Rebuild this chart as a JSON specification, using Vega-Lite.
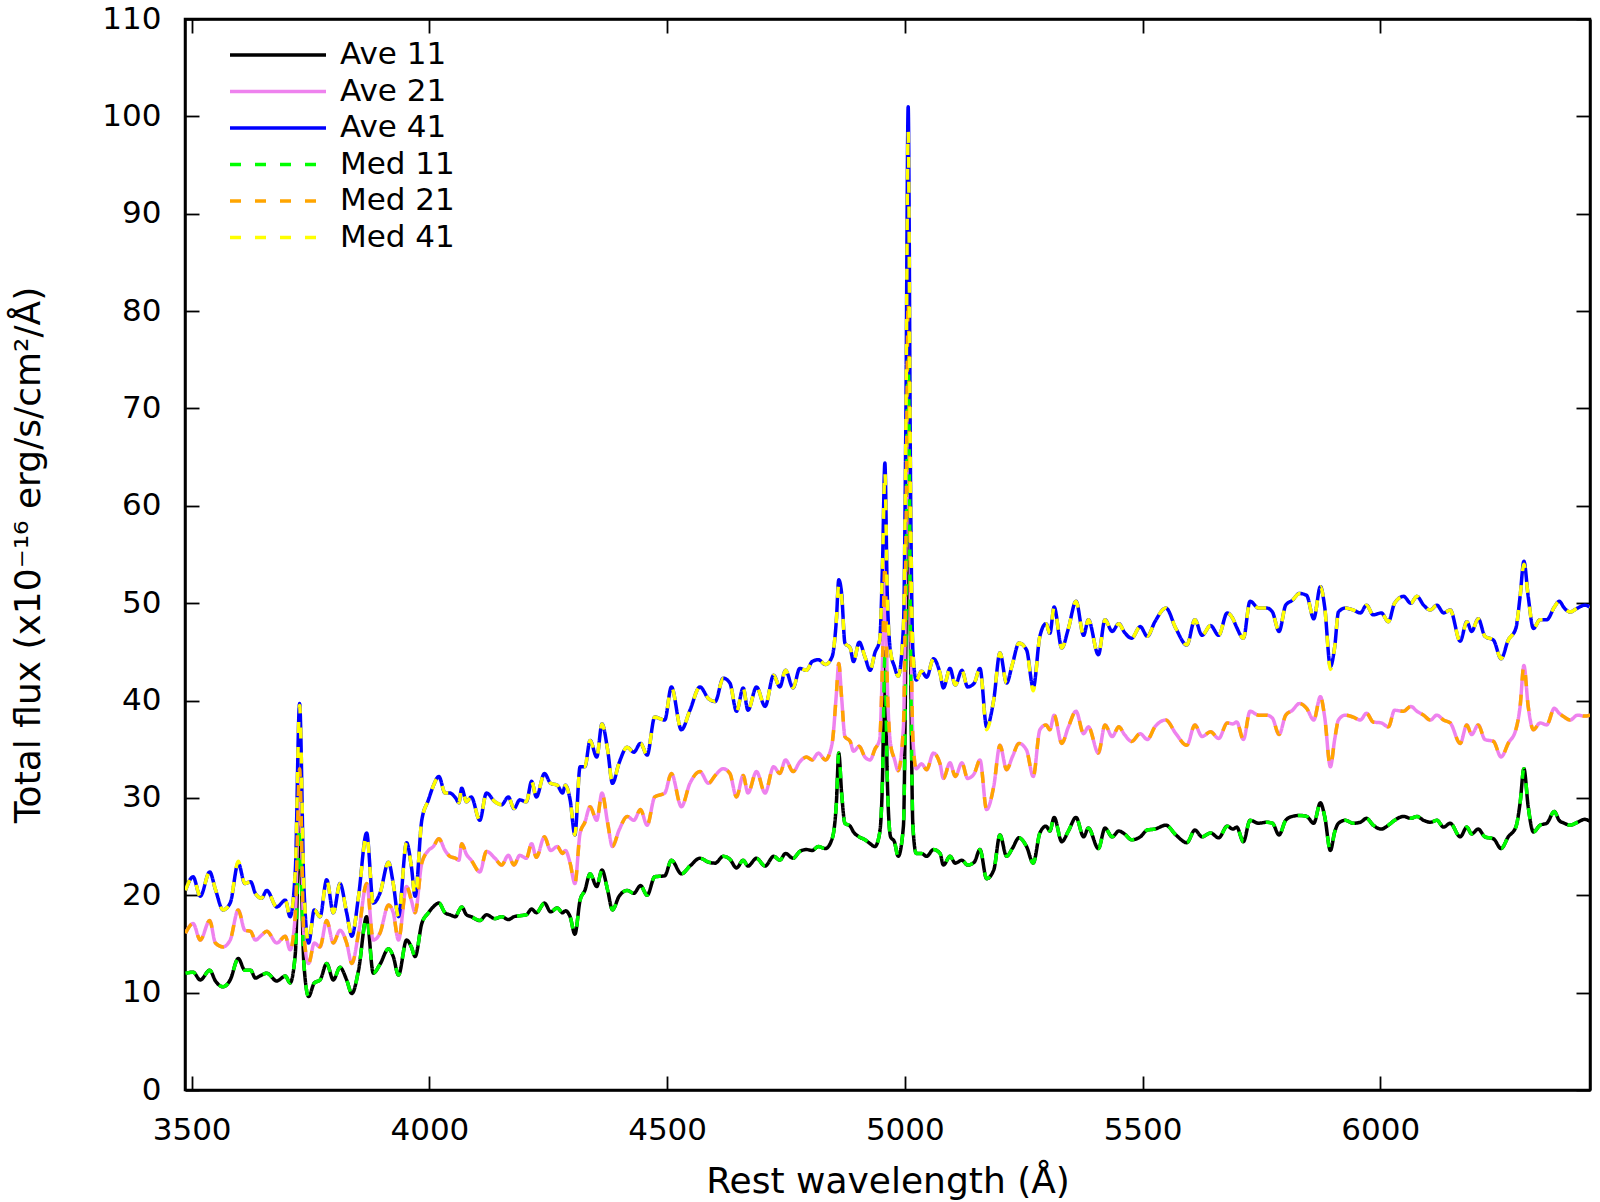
{
  "$schema": "https://vega.github.io/schema/vega-lite/v6.json",
  "width": 1405,
  "height": 1071,
  "autosize": {"type": "none"},
  "padding": {"left": 185, "top": 19, "right": 10, "bottom": 112},
  "background": "white",
  "data": {
    "values": [
      {"w":3487,"a11":12.0,"a21":16.1,"a41":20.5,"m11":12.0,"m21":16.1,"m41":20.5},
      {"w":3503,"a11":12.1,"a21":17.1,"a41":21.9,"m11":12.1,"m21":17.1,"m41":21.9},
      {"w":3518,"a11":11.3,"a21":15.4,"a41":19.9,"m11":11.3,"m21":15.4,"m41":19.9},
      {"w":3538,"a11":12.3,"a21":17.4,"a41":22.4,"m11":12.3,"m21":17.4,"m41":22.4},
      {"w":3550,"a11":11.2,"a21":15.1,"a41":20.6,"m11":11.2,"m21":15.1,"m41":20.6},
      {"w":3566,"a11":10.6,"a21":14.7,"a41":18.5,"m11":10.6,"m21":14.7,"m41":18.5},
      {"w":3581,"a11":11.3,"a21":15.4,"a41":19.2,"m11":11.3,"m21":15.4,"m41":19.2},
      {"w":3598,"a11":13.5,"a21":18.5,"a41":23.3,"m11":13.5,"m21":18.5,"m41":23.5},
      {"w":3612,"a11":12.3,"a21":16.4,"a41":21.2,"m11":12.3,"m21":16.4,"m41":21.2},
      {"w":3624,"a11":12.3,"a21":16.3,"a41":21.4,"m11":12.3,"m21":16.3,"m41":21.4},
      {"w":3634,"a11":11.5,"a21":15.4,"a41":20.2,"m11":11.5,"m21":15.4,"m41":20.2},
      {"w":3647,"a11":11.8,"a21":15.9,"a41":19.7,"m11":11.8,"m21":15.9,"m41":19.7},
      {"w":3658,"a11":12.0,"a21":16.3,"a41":20.5,"m11":12.0,"m21":16.3,"m41":20.5},
      {"w":3679,"a11":11.2,"a21":15.1,"a41":18.8,"m11":11.2,"m21":15.1,"m41":18.8},
      {"w":3697,"a11":11.7,"a21":15.8,"a41":19.5,"m11":11.7,"m21":15.8,"m41":19.5},
      {"w":3707,"a11":11.0,"a21":14.4,"a41":17.8,"m11":11.0,"m21":14.4,"m41":17.8},
      {"w":3718,"a11":14.0,"a21":18.0,"a41":22.5,"m11":14.0,"m21":18.0,"m41":22.5},
      {"w":3727,"a11":27.0,"a21":33.0,"a41":39.7,"m11":27.0,"m21":33.0,"m41":39.5},
      {"w":3736,"a11":13.0,"a21":16.0,"a41":21.0,"m11":13.0,"m21":16.0,"m41":21.0},
      {"w":3746,"a11":9.6,"a21":13.0,"a41":15.1,"m11":9.6,"m21":13.0,"m41":15.1},
      {"w":3758,"a11":11.0,"a21":15.1,"a41":18.5,"m11":11.0,"m21":15.1,"m41":18.5},
      {"w":3770,"a11":11.3,"a21":14.7,"a41":17.8,"m11":11.3,"m21":14.7,"m41":17.8},
      {"w":3784,"a11":13.0,"a21":17.4,"a41":21.6,"m11":13.0,"m21":17.4,"m41":21.6},
      {"w":3798,"a11":11.3,"a21":15.1,"a41":18.2,"m11":11.3,"m21":15.1,"m41":18.2},
      {"w":3812,"a11":12.6,"a21":16.4,"a41":21.2,"m11":12.6,"m21":16.4,"m41":21.2},
      {"w":3826,"a11":11.3,"a21":15.1,"a41":18.2,"m11":11.3,"m21":15.1,"m41":18.2},
      {"w":3837,"a11":9.9,"a21":13.0,"a41":15.8,"m11":9.9,"m21":13.0,"m41":15.8},
      {"w":3851,"a11":12.3,"a21":16.1,"a41":19.9,"m11":12.3,"m21":16.1,"m41":19.9},
      {"w":3868,"a11":17.8,"a21":21.2,"a41":26.4,"m11":17.8,"m21":21.2,"m41":26.2},
      {"w":3882,"a11":12.0,"a21":15.4,"a41":19.2,"m11":12.0,"m21":15.4,"m41":19.2},
      {"w":3896,"a11":12.9,"a21":16.1,"a41":20.2,"m11":12.9,"m21":16.1,"m41":20.2},
      {"w":3914,"a11":14.5,"a21":19.0,"a41":23.4,"m11":14.5,"m21":19.0,"m41":23.4},
      {"w":3924,"a11":13.7,"a21":18.2,"a41":21.2,"m11":13.7,"m21":18.2,"m41":21.2},
      {"w":3935,"a11":11.8,"a21":15.4,"a41":17.8,"m11":11.8,"m21":15.4,"m41":17.8},
      {"w":3952,"a11":15.4,"a21":20.9,"a41":25.4,"m11":15.4,"m21":20.9,"m41":25.4},
      {"w":3962,"a11":14.7,"a21":19.5,"a41":23.0,"m11":14.7,"m21":19.5,"m41":23.0},
      {"w":3970,"a11":13.7,"a21":18.2,"a41":19.9,"m11":13.7,"m21":18.2,"m41":19.9},
      {"w":3984,"a11":17.1,"a21":23.3,"a41":27.7,"m11":17.1,"m21":23.3,"m41":27.7},
      {"w":3998,"a11":18.2,"a21":24.6,"a41":29.8,"m11":18.2,"m21":24.6,"m41":29.8},
      {"w":4008,"a11":18.8,"a21":25.0,"a41":31.2,"m11":18.8,"m21":25.0,"m41":31.2},
      {"w":4020,"a11":19.2,"a21":25.8,"a41":32.2,"m11":19.2,"m21":25.8,"m41":32.2},
      {"w":4033,"a11":18.2,"a21":24.6,"a41":30.5,"m11":18.2,"m21":24.6,"m41":30.5},
      {"w":4043,"a11":18.0,"a21":24.0,"a41":30.5,"m11":18.0,"m21":24.0,"m41":30.5},
      {"w":4055,"a11":17.8,"a21":23.8,"a41":30.0,"m11":17.8,"m21":23.8,"m41":30.0},
      {"w":4062,"a11":18.4,"a21":23.6,"a41":29.5,"m11":18.4,"m21":23.6,"m41":29.5},
      {"w":4068,"a11":18.8,"a21":25.3,"a41":31.0,"m11":18.8,"m21":25.3,"m41":31.0},
      {"w":4078,"a11":18.0,"a21":24.2,"a41":29.6,"m11":18.0,"m21":24.2,"m41":29.6},
      {"w":4088,"a11":17.8,"a21":23.6,"a41":30.1,"m11":17.8,"m21":23.6,"m41":30.1},
      {"w":4106,"a11":17.4,"a21":22.4,"a41":27.7,"m11":17.4,"m21":22.4,"m41":27.7},
      {"w":4120,"a11":18.0,"a21":24.5,"a41":30.5,"m11":18.0,"m21":24.5,"m41":30.5},
      {"w":4138,"a11":17.6,"a21":23.8,"a41":29.6,"m11":17.6,"m21":23.8,"m41":29.6},
      {"w":4152,"a11":17.8,"a21":23.1,"a41":29.3,"m11":17.8,"m21":23.1,"m41":29.3},
      {"w":4166,"a11":17.5,"a21":24.1,"a41":30.1,"m11":17.5,"m21":24.1,"m41":30.1},
      {"w":4178,"a11":17.8,"a21":23.1,"a41":28.9,"m11":17.8,"m21":23.1,"m41":28.9},
      {"w":4190,"a11":17.9,"a21":24.1,"a41":29.8,"m11":17.9,"m21":24.1,"m41":29.8},
      {"w":4204,"a11":18.0,"a21":23.8,"a41":29.6,"m11":18.0,"m21":23.8,"m41":29.6},
      {"w":4215,"a11":18.6,"a21":25.3,"a41":31.7,"m11":18.6,"m21":25.3,"m41":31.7},
      {"w":4225,"a11":18.2,"a21":23.9,"a41":30.1,"m11":18.2,"m21":23.9,"m41":30.1},
      {"w":4242,"a11":19.2,"a21":26.0,"a41":32.5,"m11":19.2,"m21":26.0,"m41":32.5},
      {"w":4255,"a11":18.3,"a21":24.6,"a41":31.5,"m11":18.3,"m21":24.6,"m41":31.5},
      {"w":4269,"a11":18.7,"a21":25.0,"a41":31.3,"m11":18.7,"m21":25.0,"m41":31.3},
      {"w":4280,"a11":18.2,"a21":24.3,"a41":30.5,"m11":18.2,"m21":24.3,"m41":30.5},
      {"w":4286,"a11":18.4,"a21":24.6,"a41":31.3,"m11":18.4,"m21":24.6,"m41":31.3},
      {"w":4296,"a11":17.8,"a21":23.3,"a41":29.8,"m11":17.8,"m21":23.3,"m41":29.8},
      {"w":4306,"a11":16.0,"a21":21.2,"a41":26.2,"m11":16.0,"m21":21.2,"m41":26.2},
      {"w":4317,"a11":19.5,"a21":26.4,"a41":33.2,"m11":19.5,"m21":26.4,"m41":33.2},
      {"w":4327,"a11":20.5,"a21":27.5,"a41":33.2,"m11":20.5,"m21":27.5,"m41":33.2},
      {"w":4338,"a11":22.2,"a21":29.1,"a41":35.9,"m11":22.2,"m21":29.1,"m41":35.9},
      {"w":4352,"a11":20.9,"a21":27.7,"a41":34.2,"m11":20.9,"m21":27.7,"m41":34.2},
      {"w":4363,"a11":22.6,"a21":30.5,"a41":37.6,"m11":22.6,"m21":30.5,"m41":37.6},
      {"w":4375,"a11":20.5,"a21":27.4,"a41":34.9,"m11":20.5,"m21":27.4,"m41":34.9},
      {"w":4385,"a11":18.5,"a21":25.0,"a41":31.5,"m11":18.5,"m21":25.0,"m41":31.5},
      {"w":4399,"a11":19.9,"a21":26.7,"a41":33.6,"m11":19.9,"m21":26.7,"m41":33.6},
      {"w":4416,"a11":20.5,"a21":28.1,"a41":35.2,"m11":20.5,"m21":28.1,"m41":35.2},
      {"w":4430,"a11":20.2,"a21":27.7,"a41":34.7,"m11":20.2,"m21":27.7,"m41":34.7},
      {"w":4444,"a11":21.0,"a21":28.8,"a41":35.6,"m11":21.0,"m21":28.8,"m41":35.6},
      {"w":4458,"a11":20.0,"a21":27.2,"a41":34.4,"m11":20.0,"m21":27.2,"m41":34.4},
      {"w":4474,"a11":21.9,"a21":30.1,"a41":38.3,"m11":21.9,"m21":30.1,"m41":38.3},
      {"w":4495,"a11":22.0,"a21":30.5,"a41":38.0,"m11":22.0,"m21":30.5,"m41":38.0},
      {"w":4509,"a11":23.6,"a21":32.5,"a41":41.4,"m11":23.6,"m21":32.5,"m41":41.4},
      {"w":4530,"a11":22.2,"a21":29.1,"a41":37.0,"m11":22.2,"m21":29.1,"m41":37.0},
      {"w":4548,"a11":23.0,"a21":31.5,"a41":39.0,"m11":23.0,"m21":31.5,"m41":39.0},
      {"w":4569,"a11":23.8,"a21":32.7,"a41":41.4,"m11":23.8,"m21":32.7,"m41":41.4},
      {"w":4587,"a11":23.4,"a21":31.5,"a41":40.2,"m11":23.4,"m21":31.5,"m41":40.2},
      {"w":4601,"a11":23.3,"a21":32.3,"a41":39.9,"m11":23.3,"m21":32.3,"m41":39.9},
      {"w":4618,"a11":24.0,"a21":33.0,"a41":42.3,"m11":24.0,"m21":33.0,"m41":42.3},
      {"w":4632,"a11":23.7,"a21":32.5,"a41":41.8,"m11":23.7,"m21":32.5,"m41":41.8},
      {"w":4646,"a11":22.8,"a21":30.1,"a41":38.9,"m11":22.8,"m21":30.1,"m41":38.9},
      {"w":4660,"a11":23.6,"a21":32.3,"a41":41.3,"m11":23.6,"m21":32.3,"m41":41.3},
      {"w":4670,"a11":23.0,"a21":30.5,"a41":39.0,"m11":23.0,"m21":30.5,"m41":39.0},
      {"w":4688,"a11":23.8,"a21":32.7,"a41":41.4,"m11":23.8,"m21":32.7,"m41":41.4},
      {"w":4706,"a11":23.0,"a21":30.5,"a41":39.4,"m11":23.0,"m21":30.5,"m41":39.4},
      {"w":4724,"a11":24.0,"a21":33.2,"a41":42.6,"m11":24.0,"m21":33.2,"m41":42.6},
      {"w":4737,"a11":23.6,"a21":32.5,"a41":41.4,"m11":23.6,"m21":32.5,"m41":41.4},
      {"w":4749,"a11":24.3,"a21":33.9,"a41":43.1,"m11":24.3,"m21":33.9,"m41":43.1},
      {"w":4765,"a11":23.8,"a21":32.7,"a41":41.3,"m11":23.8,"m21":32.7,"m41":41.3},
      {"w":4779,"a11":24.5,"a21":33.7,"a41":43.3,"m11":24.5,"m21":33.7,"m41":43.3},
      {"w":4793,"a11":24.7,"a21":34.2,"a41":43.1,"m11":24.7,"m21":34.2,"m41":43.1},
      {"w":4805,"a11":24.6,"a21":33.9,"a41":44.0,"m11":24.6,"m21":33.9,"m41":44.0},
      {"w":4818,"a11":25.0,"a21":34.6,"a41":44.2,"m11":25.0,"m21":34.6,"m41":44.2},
      {"w":4833,"a11":24.8,"a21":33.9,"a41":43.7,"m11":24.8,"m21":33.9,"m41":43.7},
      {"w":4847,"a11":25.8,"a21":35.6,"a41":44.5,"m11":25.8,"m21":35.6,"m41":44.5},
      {"w":4856,"a11":29.5,"a21":40.7,"a41":48.3,"m11":29.5,"m21":40.7,"m41":48.3},
      {"w":4861,"a11":34.6,"a21":43.8,"a41":52.4,"m11":34.6,"m21":43.8,"m41":52.0},
      {"w":4867,"a11":30.5,"a21":40.3,"a41":51.0,"m11":30.5,"m21":40.3,"m41":50.6},
      {"w":4874,"a11":27.4,"a21":36.3,"a41":45.9,"m11":27.4,"m21":36.3,"m41":45.9},
      {"w":4885,"a11":27.1,"a21":35.8,"a41":45.4,"m11":27.1,"m21":35.8,"m41":45.4},
      {"w":4892,"a11":26.5,"a21":34.8,"a41":44.0,"m11":26.5,"m21":34.8,"m41":44.0},
      {"w":4904,"a11":26.0,"a21":35.3,"a41":46.0,"m11":26.0,"m21":35.3,"m41":46.0},
      {"w":4916,"a11":25.7,"a21":34.2,"a41":44.5,"m11":25.7,"m21":34.2,"m41":44.5},
      {"w":4927,"a11":25.3,"a21":33.9,"a41":43.1,"m11":25.3,"m21":33.9,"m41":43.1},
      {"w":4937,"a11":25.0,"a21":35.0,"a41":44.9,"m11":25.0,"m21":35.0,"m41":44.9},
      {"w":4947,"a11":26.4,"a21":36.0,"a41":46.2,"m11":26.4,"m21":36.0,"m41":46.2},
      {"w":4953,"a11":32.0,"a21":44.0,"a41":54.0,"m11":32.0,"m21":44.0,"m41":54.0},
      {"w":4958,"a11":45.0,"a21":54.5,"a41":64.4,"m11":44.5,"m21":54.0,"m41":63.5},
      {"w":4963,"a11":32.0,"a21":42.0,"a41":51.0,"m11":32.0,"m21":42.0,"m41":51.0},
      {"w":4970,"a11":26.0,"a21":35.5,"a41":45.0,"m11":26.0,"m21":35.5,"m41":45.0},
      {"w":4978,"a11":25.5,"a21":34.0,"a41":43.5,"m11":25.5,"m21":34.0,"m41":43.5},
      {"w":4986,"a11":24.0,"a21":32.8,"a41":42.5,"m11":24.0,"m21":32.8,"m41":42.5},
      {"w":4997,"a11":27.1,"a21":37.3,"a41":47.6,"m11":27.1,"m21":37.3,"m41":47.6},
      {"w":5002,"a11":45.0,"a21":55.0,"a41":68.0,"m11":45.0,"m21":55.0,"m41":67.0},
      {"w":5007,"a11":75.5,"a21":82.0,"a41":101.0,"m11":75.0,"m21":81.0,"m41":98.5},
      {"w":5012,"a11":45.0,"a21":52.0,"a41":62.0,"m11":45.0,"m21":52.0,"m41":61.0},
      {"w":5017,"a11":27.0,"a21":36.0,"a41":45.0,"m11":27.0,"m21":36.0,"m41":45.0},
      {"w":5024,"a11":24.3,"a21":33.0,"a41":42.1,"m11":24.3,"m21":33.0,"m41":42.1},
      {"w":5035,"a11":24.3,"a21":33.5,"a41":43.0,"m11":24.3,"m21":33.5,"m41":43.0},
      {"w":5046,"a11":24.0,"a21":32.9,"a41":42.4,"m11":24.0,"m21":32.9,"m41":42.4},
      {"w":5060,"a11":24.7,"a21":34.6,"a41":44.3,"m11":24.7,"m21":34.6,"m41":44.3},
      {"w":5074,"a11":24.3,"a21":33.5,"a41":42.8,"m11":24.3,"m21":33.5,"m41":42.8},
      {"w":5081,"a11":23.1,"a21":32.0,"a41":41.3,"m11":23.1,"m21":32.0,"m41":41.3},
      {"w":5095,"a11":24.0,"a21":33.6,"a41":43.3,"m11":24.0,"m21":33.6,"m41":43.3},
      {"w":5106,"a11":23.3,"a21":32.2,"a41":41.6,"m11":23.3,"m21":32.2,"m41":41.6},
      {"w":5120,"a11":23.6,"a21":33.6,"a41":43.1,"m11":23.6,"m21":33.6,"m41":43.1},
      {"w":5132,"a11":23.1,"a21":32.0,"a41":41.4,"m11":23.1,"m21":32.0,"m41":41.4},
      {"w":5146,"a11":23.4,"a21":32.5,"a41":41.8,"m11":23.4,"m21":32.5,"m41":41.8},
      {"w":5158,"a11":24.7,"a21":33.9,"a41":43.3,"m11":24.7,"m21":33.9,"m41":43.3},
      {"w":5172,"a11":21.7,"a21":28.8,"a41":37.3,"m11":21.7,"m21":28.8,"m41":37.0},
      {"w":5187,"a11":22.6,"a21":31.2,"a41":40.1,"m11":22.6,"m21":31.2,"m41":40.1},
      {"w":5200,"a11":26.2,"a21":35.4,"a41":44.9,"m11":26.2,"m21":35.4,"m41":44.9},
      {"w":5214,"a11":24.0,"a21":32.9,"a41":41.8,"m11":24.0,"m21":32.9,"m41":41.8},
      {"w":5226,"a11":24.8,"a21":34.2,"a41":43.7,"m11":24.8,"m21":34.2,"m41":43.7},
      {"w":5240,"a11":25.9,"a21":35.6,"a41":45.9,"m11":25.9,"m21":35.6,"m41":45.9},
      {"w":5256,"a11":25.0,"a21":34.9,"a41":45.2,"m11":25.0,"m21":34.9,"m41":45.2},
      {"w":5270,"a11":23.3,"a21":32.2,"a41":41.3,"m11":23.3,"m21":32.2,"m41":41.0},
      {"w":5284,"a11":26.4,"a21":37.0,"a41":46.6,"m11":26.4,"m21":37.0,"m41":46.6},
      {"w":5297,"a11":27.1,"a21":37.5,"a41":47.9,"m11":27.1,"m21":37.5,"m41":47.9},
      {"w":5305,"a11":26.6,"a21":37.0,"a41":46.9,"m11":26.6,"m21":37.0,"m41":46.9},
      {"w":5314,"a11":28.0,"a21":38.5,"a41":49.6,"m11":28.0,"m21":38.5,"m41":49.6},
      {"w":5330,"a11":25.5,"a21":35.6,"a41":45.4,"m11":25.5,"m21":35.6,"m41":45.4},
      {"w":5344,"a11":26.6,"a21":37.3,"a41":47.4,"m11":26.6,"m21":37.3,"m41":47.4},
      {"w":5360,"a11":28.0,"a21":38.9,"a41":50.2,"m11":28.0,"m21":38.9,"m41":50.2},
      {"w":5376,"a11":26.0,"a21":36.6,"a41":46.7,"m11":26.0,"m21":36.6,"m41":46.7},
      {"w":5386,"a11":26.9,"a21":37.3,"a41":48.3,"m11":26.9,"m21":37.3,"m41":48.3},
      {"w":5407,"a11":24.8,"a21":34.6,"a41":44.7,"m11":24.8,"m21":34.6,"m41":44.7},
      {"w":5421,"a11":26.9,"a21":37.5,"a41":48.3,"m11":26.9,"m21":37.5,"m41":48.3},
      {"w":5436,"a11":26.0,"a21":36.3,"a41":47.1,"m11":26.0,"m21":36.3,"m41":47.1},
      {"w":5450,"a11":26.6,"a21":37.3,"a41":47.9,"m11":26.6,"m21":37.3,"m41":47.9},
      {"w":5462,"a11":26.3,"a21":36.5,"a41":47.0,"m11":26.3,"m21":36.5,"m41":47.0},
      {"w":5477,"a11":25.7,"a21":35.8,"a41":46.4,"m11":25.7,"m21":35.8,"m41":46.4},
      {"w":5495,"a11":26.0,"a21":36.6,"a41":47.6,"m11":26.0,"m21":36.6,"m41":47.6},
      {"w":5510,"a11":26.7,"a21":36.0,"a41":46.6,"m11":26.7,"m21":36.0,"m41":46.6},
      {"w":5526,"a11":26.8,"a21":37.3,"a41":48.1,"m11":26.8,"m21":37.3,"m41":48.1},
      {"w":5549,"a11":27.2,"a21":38.0,"a41":49.5,"m11":27.2,"m21":38.0,"m41":49.5},
      {"w":5570,"a11":26.2,"a21":36.6,"a41":47.4,"m11":26.2,"m21":36.6,"m41":47.4},
      {"w":5593,"a11":25.4,"a21":35.4,"a41":45.7,"m11":25.4,"m21":35.4,"m41":45.7},
      {"w":5610,"a11":26.7,"a21":37.5,"a41":48.3,"m11":26.7,"m21":37.5,"m41":48.3},
      {"w":5625,"a11":26.0,"a21":36.3,"a41":46.7,"m11":26.0,"m21":36.3,"m41":46.7},
      {"w":5643,"a11":26.4,"a21":36.8,"a41":47.7,"m11":26.4,"m21":36.8,"m41":47.7},
      {"w":5660,"a11":25.9,"a21":36.1,"a41":46.7,"m11":25.9,"m21":36.1,"m41":46.7},
      {"w":5678,"a11":27.1,"a21":37.7,"a41":49.0,"m11":27.1,"m21":37.7,"m41":49.0},
      {"w":5690,"a11":26.8,"a21":37.6,"a41":48.4,"m11":26.8,"m21":37.6,"m41":48.4},
      {"w":5698,"a11":27.0,"a21":37.8,"a41":47.5,"m11":27.0,"m21":37.8,"m41":47.5},
      {"w":5712,"a11":25.5,"a21":36.0,"a41":46.4,"m11":25.5,"m21":36.0,"m41":46.4},
      {"w":5726,"a11":27.7,"a21":38.9,"a41":50.2,"m11":27.7,"m21":38.9,"m41":50.2},
      {"w":5744,"a11":27.4,"a21":38.5,"a41":49.5,"m11":27.4,"m21":38.5,"m41":49.5},
      {"w":5761,"a11":27.5,"a21":38.5,"a41":49.5,"m11":27.5,"m21":38.5,"m41":49.5},
      {"w":5773,"a11":27.4,"a21":38.2,"a41":49.1,"m11":27.4,"m21":38.2,"m41":49.1},
      {"w":5787,"a11":26.2,"a21":36.5,"a41":47.1,"m11":26.2,"m21":36.5,"m41":47.1},
      {"w":5801,"a11":27.7,"a21":38.5,"a41":49.8,"m11":27.7,"m21":38.5,"m41":49.8},
      {"w":5815,"a11":28.1,"a21":39.0,"a41":50.3,"m11":28.1,"m21":39.0,"m41":50.3},
      {"w":5830,"a11":28.2,"a21":39.7,"a41":51.0,"m11":28.2,"m21":39.7,"m41":51.0},
      {"w":5845,"a11":28.1,"a21":39.2,"a41":50.8,"m11":28.1,"m21":39.2,"m41":50.8},
      {"w":5860,"a11":27.4,"a21":38.0,"a41":48.4,"m11":27.4,"m21":38.0,"m41":48.4},
      {"w":5874,"a11":29.5,"a21":40.4,"a41":51.7,"m11":29.5,"m21":40.4,"m41":51.7},
      {"w":5883,"a11":28.1,"a21":38.3,"a41":49.6,"m11":28.1,"m21":38.3,"m41":49.6},
      {"w":5895,"a11":24.6,"a21":33.2,"a41":43.5,"m11":24.6,"m21":33.2,"m41":43.2},
      {"w":5904,"a11":26.5,"a21":36.0,"a41":45.5,"m11":26.5,"m21":36.0,"m41":45.5},
      {"w":5912,"a11":27.4,"a21":38.0,"a41":49.1,"m11":27.4,"m21":38.0,"m41":49.1},
      {"w":5926,"a11":27.7,"a21":38.5,"a41":49.5,"m11":27.7,"m21":38.5,"m41":49.5},
      {"w":5943,"a11":27.4,"a21":38.3,"a41":49.3,"m11":27.4,"m21":38.3,"m41":49.3},
      {"w":5958,"a11":27.5,"a21":38.0,"a41":49.0,"m11":27.5,"m21":38.0,"m41":49.0},
      {"w":5971,"a11":27.9,"a21":38.7,"a41":49.8,"m11":27.9,"m21":38.7,"m41":49.8},
      {"w":5985,"a11":27.2,"a21":37.8,"a41":48.8,"m11":27.2,"m21":37.8,"m41":48.8},
      {"w":6002,"a11":26.8,"a21":37.7,"a41":49.0,"m11":26.8,"m21":37.7,"m41":49.0},
      {"w":6017,"a11":27.2,"a21":37.3,"a41":48.1,"m11":27.2,"m21":37.3,"m41":48.1},
      {"w":6030,"a11":27.7,"a21":39.0,"a41":50.0,"m11":27.7,"m21":39.0,"m41":50.0},
      {"w":6049,"a11":28.1,"a21":38.9,"a41":50.7,"m11":28.1,"m21":38.9,"m41":50.7},
      {"w":6064,"a11":27.9,"a21":39.4,"a41":50.0,"m11":27.9,"m21":39.4,"m41":50.0},
      {"w":6077,"a11":28.1,"a21":38.9,"a41":50.7,"m11":28.1,"m21":38.9,"m41":50.7},
      {"w":6091,"a11":27.7,"a21":38.5,"a41":49.8,"m11":27.7,"m21":38.5,"m41":49.8},
      {"w":6105,"a11":27.5,"a21":38.0,"a41":49.3,"m11":27.5,"m21":38.0,"m41":49.3},
      {"w":6119,"a11":27.7,"a21":38.5,"a41":49.8,"m11":27.7,"m21":38.5,"m41":49.8},
      {"w":6133,"a11":27.0,"a21":38.0,"a41":49.0,"m11":27.0,"m21":38.0,"m41":49.0},
      {"w":6147,"a11":27.4,"a21":37.7,"a41":49.3,"m11":27.4,"m21":37.7,"m41":49.3},
      {"w":6168,"a11":26.0,"a21":35.6,"a41":46.1,"m11":26.0,"m21":35.6,"m41":46.1},
      {"w":6182,"a11":27.0,"a21":37.5,"a41":48.1,"m11":27.0,"m21":37.5,"m41":48.1},
      {"w":6192,"a11":26.3,"a21":36.5,"a41":47.1,"m11":26.3,"m21":36.5,"m41":47.1},
      {"w":6206,"a11":26.8,"a21":37.5,"a41":48.4,"m11":26.8,"m21":37.5,"m41":48.4},
      {"w":6220,"a11":26.0,"a21":36.0,"a41":46.6,"m11":26.0,"m21":36.0,"m41":46.6},
      {"w":6238,"a11":25.8,"a21":35.8,"a41":46.2,"m11":25.8,"m21":35.8,"m41":46.2},
      {"w":6254,"a11":24.8,"a21":34.2,"a41":44.3,"m11":24.8,"m21":34.2,"m41":44.3},
      {"w":6269,"a11":26.0,"a21":35.6,"a41":46.2,"m11":26.0,"m21":35.6,"m41":46.2},
      {"w":6285,"a11":27.0,"a21":37.0,"a41":47.4,"m11":27.0,"m21":37.0,"m41":47.4},
      {"w":6294,"a11":29.5,"a21":39.4,"a41":50.7,"m11":29.5,"m21":39.4,"m41":50.7},
      {"w":6302,"a11":33.0,"a21":43.6,"a41":54.3,"m11":33.0,"m21":43.6,"m41":54.0},
      {"w":6311,"a11":29.1,"a21":39.4,"a41":50.7,"m11":29.1,"m21":39.4,"m41":50.7},
      {"w":6322,"a11":26.5,"a21":37.0,"a41":47.4,"m11":26.5,"m21":37.0,"m41":47.4},
      {"w":6336,"a11":27.2,"a21":37.7,"a41":48.3,"m11":27.2,"m21":37.7,"m41":48.3},
      {"w":6350,"a11":27.4,"a21":37.5,"a41":48.3,"m11":27.4,"m21":37.5,"m41":48.3},
      {"w":6366,"a11":28.6,"a21":39.2,"a41":49.6,"m11":28.6,"m21":39.2,"m41":49.6},
      {"w":6376,"a11":27.7,"a21":38.7,"a41":50.2,"m11":27.7,"m21":38.7,"m41":50.2},
      {"w":6387,"a11":27.4,"a21":38.3,"a41":49.5,"m11":27.4,"m21":38.3,"m41":49.5},
      {"w":6399,"a11":27.2,"a21":38.0,"a41":49.1,"m11":27.2,"m21":38.0,"m41":49.1},
      {"w":6415,"a11":27.5,"a21":38.5,"a41":49.5,"m11":27.5,"m21":38.5,"m41":49.5},
      {"w":6430,"a11":27.8,"a21":38.4,"a41":49.8,"m11":27.8,"m21":38.4,"m41":49.8},
      {"w":6441,"a11":27.6,"a21":38.5,"a41":49.6,"m11":27.6,"m21":38.5,"m41":49.6}
    ]
  },
  "transform": [
    {"fold": ["a11", "a21", "a41", "m11", "m21", "m41"], "as": ["key", "flux"]}
  ],
  "encoding": {
    "x": {
      "field": "w",
      "type": "quantitative",
      "scale": {"domain": [3486, 6441], "nice": false, "zero": false}
    },
    "y": {
      "field": "flux",
      "type": "quantitative",
      "scale": {"domain": [0, 110], "nice": false}
    }
  },
  "layer": [
    {
      "transform": [{"filter": {"field": "key", "oneOf": ["a11", "a21", "a41"]}}],
      "mark": {"type": "line", "strokeWidth": 3.5, "interpolate": "monotone", "clip": true},
      "encoding": {
        "x": {
          "field": "w",
          "type": "quantitative",
          "axis": {
            "orient": "bottom",
            "values": [3500, 4000, 4500, 5000, 5500, 6000],
            "format": "d",
            "labelPadding": 39,
            "title": "Rest wavelength (Å)",
            "titlePadding": 19
          }
        },
        "y": {
          "field": "flux",
          "type": "quantitative",
          "axis": {
            "orient": "left",
            "values": [0, 10, 20, 30, 40, 50, 60, 70, 80, 90, 100, 110],
            "labelPadding": 38,
            "title": "Total flux (x10⁻¹⁶ erg/s/cm²/Å)",
            "titlePadding": 54
          }
        },
        "color": {
          "field": "key",
          "type": "nominal",
          "scale": {
            "domain": ["a11", "a21", "a41", "m11", "m21", "m41"],
            "range": ["#000000", "#ee82ee", "#0000ff", "#00ff00", "#ffa500", "#ffff00"]
          },
          "legend": {
            "title": null,
            "orient": "none",
            "legendX": 75,
            "legendY": 18,
            "labelExpr": "replace(replace(datum.label, 'a', 'Ave '), 'm', 'Med ')"
          }
        },
        "strokeDash": {
          "field": "key",
          "type": "nominal",
          "scale": {
            "domain": ["a11", "a21", "a41", "m11", "m21", "m41"],
            "range": [[1, 0], [1, 0], [1, 0], [11, 14], [11, 14], [11, 14]]
          },
          "legend": {
            "title": null,
            "orient": "none",
            "legendX": 75,
            "legendY": 18,
            "labelExpr": "replace(replace(datum.label, 'a', 'Ave '), 'm', 'Med ')"
          }
        }
      }
    },
    {
      "transform": [{"filter": {"field": "key", "oneOf": ["m11", "m21", "m41"]}}],
      "mark": {"type": "line", "strokeWidth": 3.5, "interpolate": "monotone", "clip": true},
      "encoding": {
        "x": {"field": "w", "type": "quantitative", "axis": null},
        "y": {"field": "flux", "type": "quantitative", "axis": null},
        "color": {"field": "key", "type": "nominal"},
        "strokeDash": {"field": "key", "type": "nominal"}
      }
    },
    {
      "transform": [{"filter": {"field": "key", "equal": "a11"}}],
      "mark": {"type": "point", "opacity": 0},
      "encoding": {
        "x": {
          "field": "w",
          "type": "quantitative",
          "axis": {"orient": "top", "values": [3500, 4000, 4500, 5000, 5500, 6000], "labels": false, "title": null}
        },
        "y": {
          "field": "flux",
          "type": "quantitative",
          "axis": {"orient": "right", "values": [0, 10, 20, 30, 40, 50, 60, 70, 80, 90, 100, 110], "labels": false, "title": null}
        }
      }
    }
  ],
  "resolve": {"axis": {"x": "independent", "y": "independent"}},
  "config": {
    "font": "DejaVu Sans",
    "view": {"stroke": "#000000", "strokeWidth": 2.5},
    "axis": {
      "grid": false,
      "domainColor": "#000000",
      "domainWidth": 2.5,
      "tickColor": "#000000",
      "tickWidth": 1.8,
      "tickSize": -14,
      "labelColor": "#000000",
      "labelFont": "DejaVu Sans",
      "labelFontSize": 31,
      "titleColor": "#000000",
      "titleFont": "DejaVu Sans",
      "titleFontSize": 36,
      "titleFontWeight": "normal"
    },
    "legend": {
      "padding": 0,
      "symbolType": "M-3,0H3",
      "symbolSize": 1024,
      "symbolStrokeWidth": 3.5,
      "labelFont": "DejaVu Sans",
      "labelFontSize": 31,
      "labelColor": "#000000",
      "labelOffset": 44,
      "rowPadding": 3.5
    }
  }
}
